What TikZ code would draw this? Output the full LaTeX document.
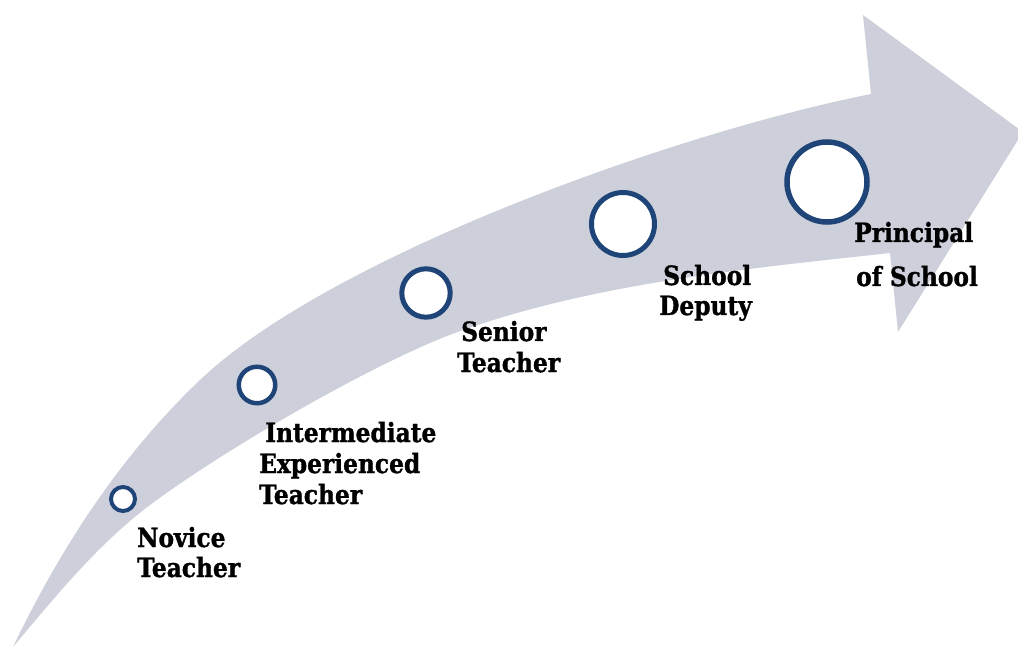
\documentclass[tikz,border=0pt]{standalone}
\usepackage{fontspec}
\setmainfont{DejaVu Serif}[FakeStretch=0.88,BoldFeatures={FakeBold=1.2}]
\definecolor{bandgray}{RGB}{205,208,218}
\definecolor{ringblue}{RGB}{31,68,119}
\begin{document}
\begin{tikzpicture}[x=1pt,y=-1pt,
  band/.style={fill=bandgray},
  ring/.style={circle,draw=ringblue,fill=white,inner sep=0pt},
  lbl/.style={anchor=base west,inner sep=0pt,text=black,font=\fontsize{26.5}{30}\selectfont\bfseries}]
\useasboundingbox (0,0) rectangle (1018,647);
\clip (0,0) rectangle (1018,647);
% curved arrow band
\fill[band] (13,647)
  .. controls (54.8,597.2) and (98,544) .. (150,505)
  .. controls (222,451) and (378,359.7) .. (463,330)
  .. controls (599,282.5) and (747,268.8) .. (890,253)
  -- (898,332) -- (1023,132) -- (863,15) -- (871,94)
  .. controls (675,133) and (330.5,256) .. (200,380)
  .. controls (120.3,455.8) and (60.6,547.9) .. (13,647)
  -- cycle;
% stage markers
\node[ring,line width=4pt,minimum size=24pt] (c1) at (123,499) {};
\node[ring,line width=4.5pt,minimum size=36.5pt] (c2) at (257,385) {};
\node[ring,line width=5pt,minimum size=48.4pt] (c3) at (426,293) {};
\node[ring,line width=5pt,minimum size=63pt] (c4) at (623,224) {};
\node[ring,line width=5.5pt,minimum size=80pt] (c5) at (827,182) {};
% labels
\node[lbl] (l1a) at (137,547) {Novice};
\node[lbl] (l1b) at (137,577) {Teacher};
\node[lbl] (l2a) at (265,442) {Intermediate};
\node[lbl] (l2b) at (259,473) {Experienced};
\node[lbl] (l2c) at (259,504) {Teacher};
\node[lbl] (l3a) at (461,341) {Senior};
\node[lbl] (l3b) at (457,372) {Teacher};
\node[lbl] (l4a) at (663,285) {School};
\node[lbl] (l4b) at (659,315) {Deputy};
\node[lbl] (l5a) at (854,242) {Principal};
\node[lbl] (l5b) at (856,286) {of School};
\end{tikzpicture}
\end{document}
